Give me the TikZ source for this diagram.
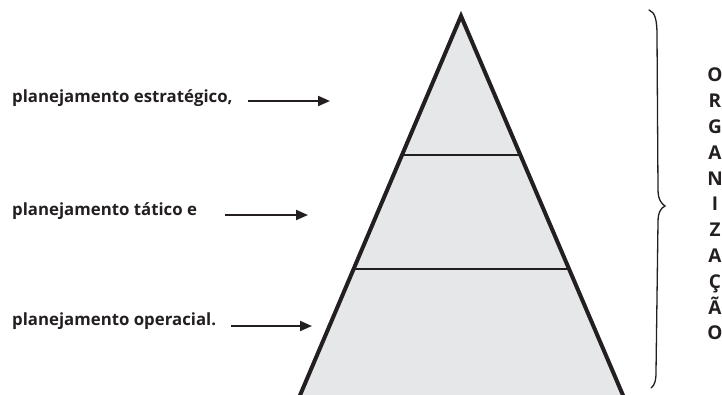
\documentclass[tikz,border=0pt]{standalone}
\usepackage{fontspec}
\setmainfont{Open Sans}
\usetikzlibrary{arrows.meta,calc}
\definecolor{pyrfill}{HTML}{E6E7E8}
\definecolor{ink}{HTML}{231F20}
\begin{document}
\begin{tikzpicture}[x=1pt,y=-1pt,
  lbl/.style={anchor=west,inner sep=0pt,font=\fontsize{16.8}{19}\selectfont\bfseries,text=ink},
  pointer/.style={draw=ink,line width=2pt,-{Triangle[length=12pt,width=10pt]}},
  tier/.style={draw=ink,line width=2.4pt},
  outline/.style={draw=ink,line width=4pt,line join=miter,miter limit=20}]
\useasboundingbox (0,0) rectangle (722,394);
\begin{scope}
\clip (0,0) rectangle (722,394);
% pyramid
\coordinate (apex) at (461,16);
\coordinate (bl) at (298,400);
\coordinate (br) at (625,400);
\fill[pyrfill] (apex) -- (bl) -- (br) -- cycle;
\begin{scope}
\clip (apex) -- (bl) -- (br) -- cycle;
\draw[tier] (280,155) -- (650,155);
\draw[tier] (280,269) -- (650,269);
\end{scope}
\draw[outline] (bl) -- (apex) -- (br);
\end{scope}
% labels
\node[lbl] (l1) at (12,98) {planejamento estratégico,};
\node[lbl] (l2) at (12,211) {planejamento tático e};
\node[lbl] (l3) at (12,321) {planejamento operacial.};
\coordinate (s1) at (248,101); \coordinate (e1) at (330,101);
\coordinate (s2) at (225,215); \coordinate (e2) at (308,215);
\coordinate (s3) at (231,326); \coordinate (e3) at (312,326);
\draw[pointer] (s1) -- (e1);
\draw[pointer] (s2) -- (e2);
\draw[pointer] (s3) -- (e3);
% brace
\draw[ink,line width=1.3pt,line cap=round]
  (649,10) .. controls (655,12) and (657,20) .. (657,35)
  -- (658,190) .. controls (658,200) and (662,204) .. (665,206)
  .. controls (661,208) and (658,212) .. (658,222)
  -- (656,372) .. controls (656,380) and (655,385) .. (651,388);
% vertical word
\node[inner sep=0pt,align=center,text=ink,font=\fontsize{19}{25.8}\selectfont\bfseries,anchor=north] (org) at (715,68)
  {O\\R\\G\\A\\N\\I\\Z\\A\\Ç\\Ã\\O};
\end{tikzpicture}
\end{document}
